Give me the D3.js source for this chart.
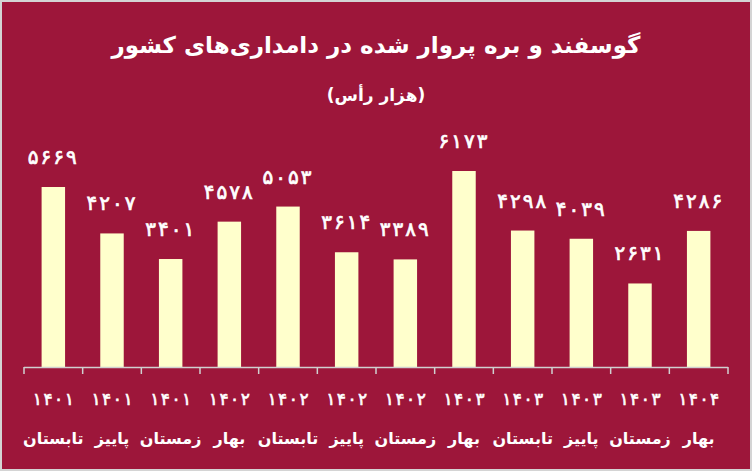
<!DOCTYPE html>
<html><head><meta charset="utf-8">
<script src="https://cdn.jsdelivr.net/npm/d3@7"></script>
<style>html,body{margin:0;padding:0;background:#d9d9d9;}svg{display:block;}</style>
</head><body>
<script>
const years = ["۱۴۰۱","۱۴۰۱","۱۴۰۱","۱۴۰۲","۱۴۰۲","۱۴۰۲","۱۴۰۲","۱۴۰۳","۱۴۰۳","۱۴۰۳","۱۴۰۳","۱۴۰۴"];
const seasons = ["تابستان","پاییز","زمستان","بهار","تابستان","پاییز","زمستان","بهار","تابستان","پاییز","زمستان","بهار"];
const values = [5669,4207,3401,4578,5053,3614,3389,6173,4298,4039,2631,4286];
const title = "گوسفند و بره پروار شده در دامداری‌های کشور";
const subtitle = "(هزار رأس)";

const W = 752, H = 471;
const font = "'DejaVu Sans', sans-serif";
const svg = d3.select("body").append("svg").attr("width", W).attr("height", H);
svg.append("rect").attr("x",0).attr("y",0).attr("width",W).attr("height",H).attr("fill","#d4d4d4");
svg.append("rect").attr("x",2).attr("y",2).attr("width",W-4).attr("height",H-4).attr("fill","#9d163a");

const idx = d3.range(values.length);
const x = d3.scaleBand().domain(idx).range([24, 728]).paddingInner(0.6).paddingOuter(0.3);
const y = d3.scaleLinear().domain([0, 7000]).range([367, 367 - 7000*0.03175]);
const fa = d3.format("d");
const toFa = s => String(s).replace(/\d/g, d => "۰۱۲۳۴۵۶۷۸۹"[d]);

svg.append("text").attr("x", W/2).attr("y", 53).attr("text-anchor","middle")
  .attr("fill","#fff").attr("font-family",font).attr("font-weight","bold").attr("font-size",23)
  .attr("direction","rtl").text(title);
svg.append("text").attr("x", W/2).attr("y", 101).attr("text-anchor","middle")
  .attr("fill","#fff").attr("font-family",font).attr("font-weight","bold").attr("font-size",17)
  .attr("direction","rtl").text(subtitle);

svg.selectAll("rect.bar").data(values).join("rect").attr("class","bar")
  .attr("x",(d,i)=>x(i)).attr("width",x.bandwidth())
  .attr("y",d=>y(d)).attr("height",d=>y(0)-y(d)).attr("fill","#ffffcc");

function spaced(sel, str, gap){
  Array.from(str).forEach((ch,k)=>{
    sel.append("tspan").attr("dx", k===0?0:gap).text(ch);
  });
}

svg.selectAll("text.val").data(values).join("text").attr("class","val")
  .attr("x",(d,i)=>x(i)+x.bandwidth()/2 - 1).attr("y",d=>y(d)-23)
  .attr("text-anchor","middle").attr("fill","#fff").attr("stroke","#fff").attr("stroke-width",0.7)
  .attr("font-family",font).attr("font-size",20)
  .each(function(d){ spaced(d3.select(this), toFa(fa(d)), 2); });

// axis
const x0 = 24;
svg.append("line").attr("x1",x0).attr("x2",728).attr("y1",367.5).attr("y2",367.5)
  .attr("stroke","#d0d0d0").attr("stroke-width",1.5);
svg.selectAll("line.tick").data(d3.range(values.length+1)).join("line").attr("class","tick")
  .attr("x1",i=>x0+i*(704/values.length)).attr("x2",i=>x0+i*(704/values.length))
  .attr("y1",367).attr("y2",374).attr("stroke","#d0d0d0").attr("stroke-width",1.5);

svg.selectAll("text.yr").data(years).join("text").attr("class","yr")
  .attr("x",(d,i)=>x(i)+x.bandwidth()/2).attr("y",405)
  .attr("text-anchor","middle").attr("fill","#fff").attr("stroke","#fff").attr("stroke-width",0.6)
  .attr("font-family",font).attr("font-size",17)
  .each(function(d){ spaced(d3.select(this), d, 1.5); });
svg.selectAll("text.ss").data(seasons).join("text").attr("class","ss")
  .attr("x",(d,i)=>x(i)+x.bandwidth()/2).attr("y",444)
  .attr("text-anchor","middle").attr("fill","#fff").attr("font-family",font)
  .attr("font-weight","bold").attr("font-size",16).attr("direction","rtl").text(d=>d);
</script>
</body></html>
